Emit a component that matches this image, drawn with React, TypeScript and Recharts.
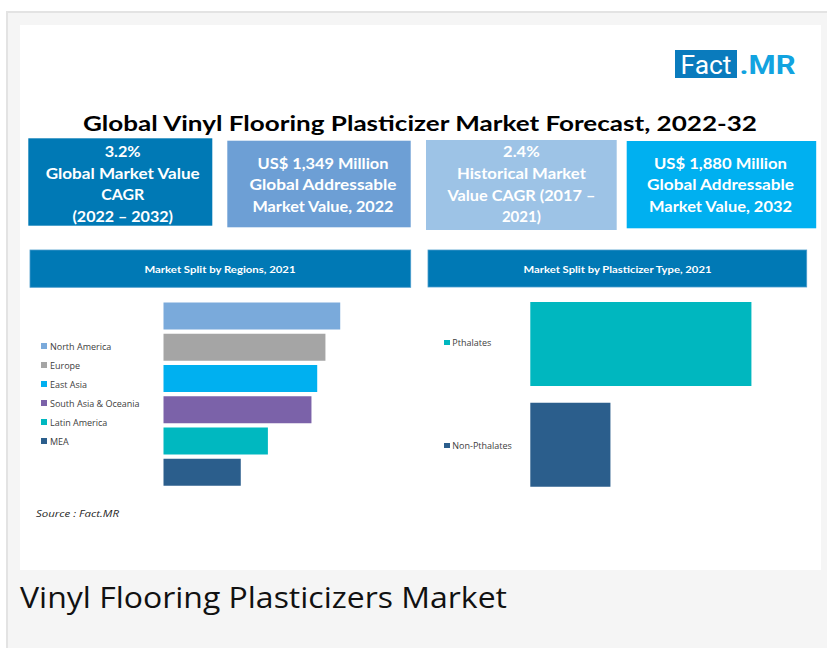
import React from 'react';
import { BarChart, Bar, XAxis, YAxis, Cell, Legend } from 'recharts';

// ---------- data ----------
const regionNames = ['North America', 'Europe', 'East Asia', 'South Asia & Oceania', 'Latin America', 'MEA'];
const regionShares = [21.5, 19.7, 18.7, 18.0, 12.7, 9.4];
const regionColors = ['#7aaadb', '#a5a5a5', '#00b0f0', '#7b62a9', '#00b8c0', '#2b5e8c'];

const typeNames = ['Pthalates', 'Non-Pthalates'];
const typeShares = [73.4, 26.6];
const typeColors = ['#00b7bf', '#2b5e8c'];

const kpiLines = [
  ['3.2%', 'Global Market Value', 'CAGR', '(2022 – 2032)'],
  ['US$ 1,349 Million', 'Global Addressable', 'Market Value, 2022'],
  ['2.4%', 'Historical Market', 'Value CAGR (2017 –', '2021)'],
  ['US$ 1,880 Million', 'Global Addressable', 'Market Value, 2032'],
];
const kpiColors = ['#0079b5', '#6d9fd5', '#9dc3e6', '#00b0f0'];

const titleText = 'Global Vinyl Flooring Plasticizer Market Forecast, 2022-32';
const regionHeader = 'Market Split by Regions, 2021';
const typeHeader = 'Market Split by Plasticizer Type, 2021';
const sourceText = 'Source : Fact.MR';
const captionText = 'Vinyl Flooring Plasticizers Market';

const regionData = regionNames.map((name, i) => ({ name, share: regionShares[i] }));
const typeData = typeNames.map((name, i) => ({ name, share: typeShares[i] }));

// ---------- layout ----------
const kpiBoxes = [
  { x: 28.3, y: 138.3, w: 184, h: 87.4, cx: 122.7, base: [157.3, 178.6, 200.1, 221.5], lw: [36, 154, 43, 100.6] },
  { x: 227.3, y: 140.7, w: 183.4, h: 86.6, cx: 323, base: [168.5, 190, 211.5], lw: [131, 147, 141] },
  { x: 426, y: 140, w: 190.7, h: 90, cx: 521.4, base: [157.3, 179, 200.7, 221.7], lw: [36.6, 129, 148, 39] },
  { x: 626.7, y: 141, w: 189.5, h: 87.3, cx: 720.5, base: [168.5, 190, 211.5], lw: [133, 147, 143] },
];

type TProps = {
  x: number; y: number; w: number; size: number; weight?: number; fill?: string;
  anchor?: 'start' | 'middle' | 'end'; family?: string; italic?: boolean; children: React.ReactNode;
};
const T = ({ x, y, w, size, weight = 400, fill = '#000', anchor = 'middle', family = 'Lato', italic = false, children }: TProps) => (
  <text
    x={x}
    y={y}
    textLength={w}
    lengthAdjust="spacingAndGlyphs"
    fontSize={size}
    fontWeight={weight}
    fill={fill}
    textAnchor={anchor}
    fontFamily={family}
    fontStyle={italic ? 'italic' : 'normal'}
  >
    {children}
  </text>
);

const makeLegend = (names: string[], colors: string[], rowY: number[], sqX: number, txtX: number) => () => (
  <div style={{ position: 'relative', width: 140, height: 210 }}>
    {names.map((n, i) => (
      <div
        key={n}
        style={{
          position: 'absolute',
          left: sqX,
          top: rowY[i] - 7,
          height: 14,
          display: 'flex',
          alignItems: 'center',
          whiteSpace: 'nowrap',
          fontFamily: '"Open Sans", sans-serif',
          fontSize: 9,
          color: '#404040',
        }}
      >
        <span style={{ display: 'inline-block', width: 5.5, height: 5.5, background: colors[i], marginRight: txtX - sqX - 5.5 }} />
        <span>{n}</span>
      </div>
    ))}
  </div>
);

export default function App() {
  return (
    <div style={{ position: 'absolute', left: 0, top: 0, width: 827, height: 648, background: '#ffffff', overflow: 'hidden' }}>
      {/* outer gray frame */}
      <div
        style={{
          position: 'absolute', left: 6, top: 11, width: 830, height: 650, background: '#f5f5f5',
          borderTop: '2px solid #e3e3e3', borderLeft: '2px solid #e3e3e3', boxSizing: 'border-box',
        }}
      />
      {/* white panel */}
      <div style={{ position: 'absolute', left: 20, top: 25, width: 801, height: 545, background: '#ffffff' }} />

      <svg width={827} height={648} style={{ position: 'absolute', left: 0, top: 0 }}>
        {/* logo */}
        <rect x={675} y={50} width={62} height={28} fill="#0a7bbd" />
        <T x={706} y={73.5} w={51} size={25} fill="#ffffff" family="Roboto">Fact</T>
        <T x={767.5} y={73.5} w={56} size={25} weight={700} fill="#12a3e0" family="Roboto">.MR</T>

        {/* title */}
        <T x={420} y={131} w={674} size={21.5} weight={700} fill="#000000">{titleText}</T>

        {/* KPI boxes */}
        {kpiBoxes.map((b, i) => (
          <g key={i}>
            <rect x={b.x} y={b.y} width={b.w} height={b.h} fill={kpiColors[i]} />
            {kpiLines[i].map((line, j) => (
              <T key={j} x={b.cx} y={b.base[j]} w={b.lw[j]} size={14.5} weight={700} fill="#ffffff">{line}</T>
            ))}
          </g>
        ))}

        {/* section headers */}
        <rect x={30} y={250} width={380.7} height={37.3} fill="#0079b5" stroke="#4a9ccc" strokeWidth={0.8} />
        <T x={220} y={272.5} w={151} size={9.5} weight={700} fill="#ffffff">{regionHeader}</T>
        <rect x={428} y={250} width={378.7} height={37} fill="#0079b5" stroke="#4a9ccc" strokeWidth={0.8} />
        <T x={617.5} y={272.5} w={188} size={9.5} weight={700} fill="#ffffff">{typeHeader}</T>

        {/* source */}
        <T x={36} y={516.5} w={83} size={9} italic anchor="start" fill="#262626" family="Open Sans">{sourceText}</T>

        {/* caption */}
        <T x={20} y={607.5} w={487} size={29} anchor="start" fill="#111111" family="Open Sans">{captionText}</T>
      </svg>

      {/* Regions chart */}
      <div style={{ position: 'absolute', left: 30, top: 288 }}>
        <BarChart
          width={381}
          height={210}
          data={regionData}
          layout="vertical"
          margin={{ top: 12.6, right: 0.9, bottom: 10, left: 133.5 }}
          barCategoryGap="6%"
        >
          <XAxis type="number" domain={[0, 30]} hide />
          <YAxis type="category" dataKey="name" width={0} tick={false} tickLine={false} axisLine={{ stroke: '#d9d9d9' }} interval={0} />
          <Legend
            layout="vertical"
            align="center"
            verticalAlign="middle"
            wrapperStyle={{ left: 0, top: 0, width: 140, height: 210 }}
            content={makeLegend(regionNames, regionColors, [58, 77, 96, 115, 134, 153], 11, 20)}
          />
          <Bar dataKey="share" isAnimationActive={false}>
            {regionData.map((d, i) => (
              <Cell key={d.name} fill={regionColors[i]} />
            ))}
          </Bar>
        </BarChart>
      </div>

      {/* Plasticizer type chart */}
      <div style={{ position: 'absolute', left: 428, top: 288 }}>
        <BarChart
          width={378}
          height={210}
          data={typeData}
          layout="vertical"
          margin={{ top: 5.65, right: 34.7, bottom: 2.95, left: 102.3 }}
          barCategoryGap="8.3%"
        >
          <XAxis type="number" domain={[0, 80]} hide />
          <YAxis type="category" dataKey="name" width={0} tick={false} tickLine={false} axisLine={{ stroke: '#d9d9d9' }} interval={0} />
          <Legend
            layout="vertical"
            align="center"
            verticalAlign="middle"
            wrapperStyle={{ left: 0, top: 0, width: 140, height: 210 }}
            content={makeLegend(typeNames, typeColors, [54.3, 157.7], 16.3, 24.3)}
          />
          <Bar dataKey="share" isAnimationActive={false}>
            {typeData.map((d, i) => (
              <Cell key={d.name} fill={typeColors[i]} />
            ))}
          </Bar>
        </BarChart>
      </div>
    </div>
  );
}
